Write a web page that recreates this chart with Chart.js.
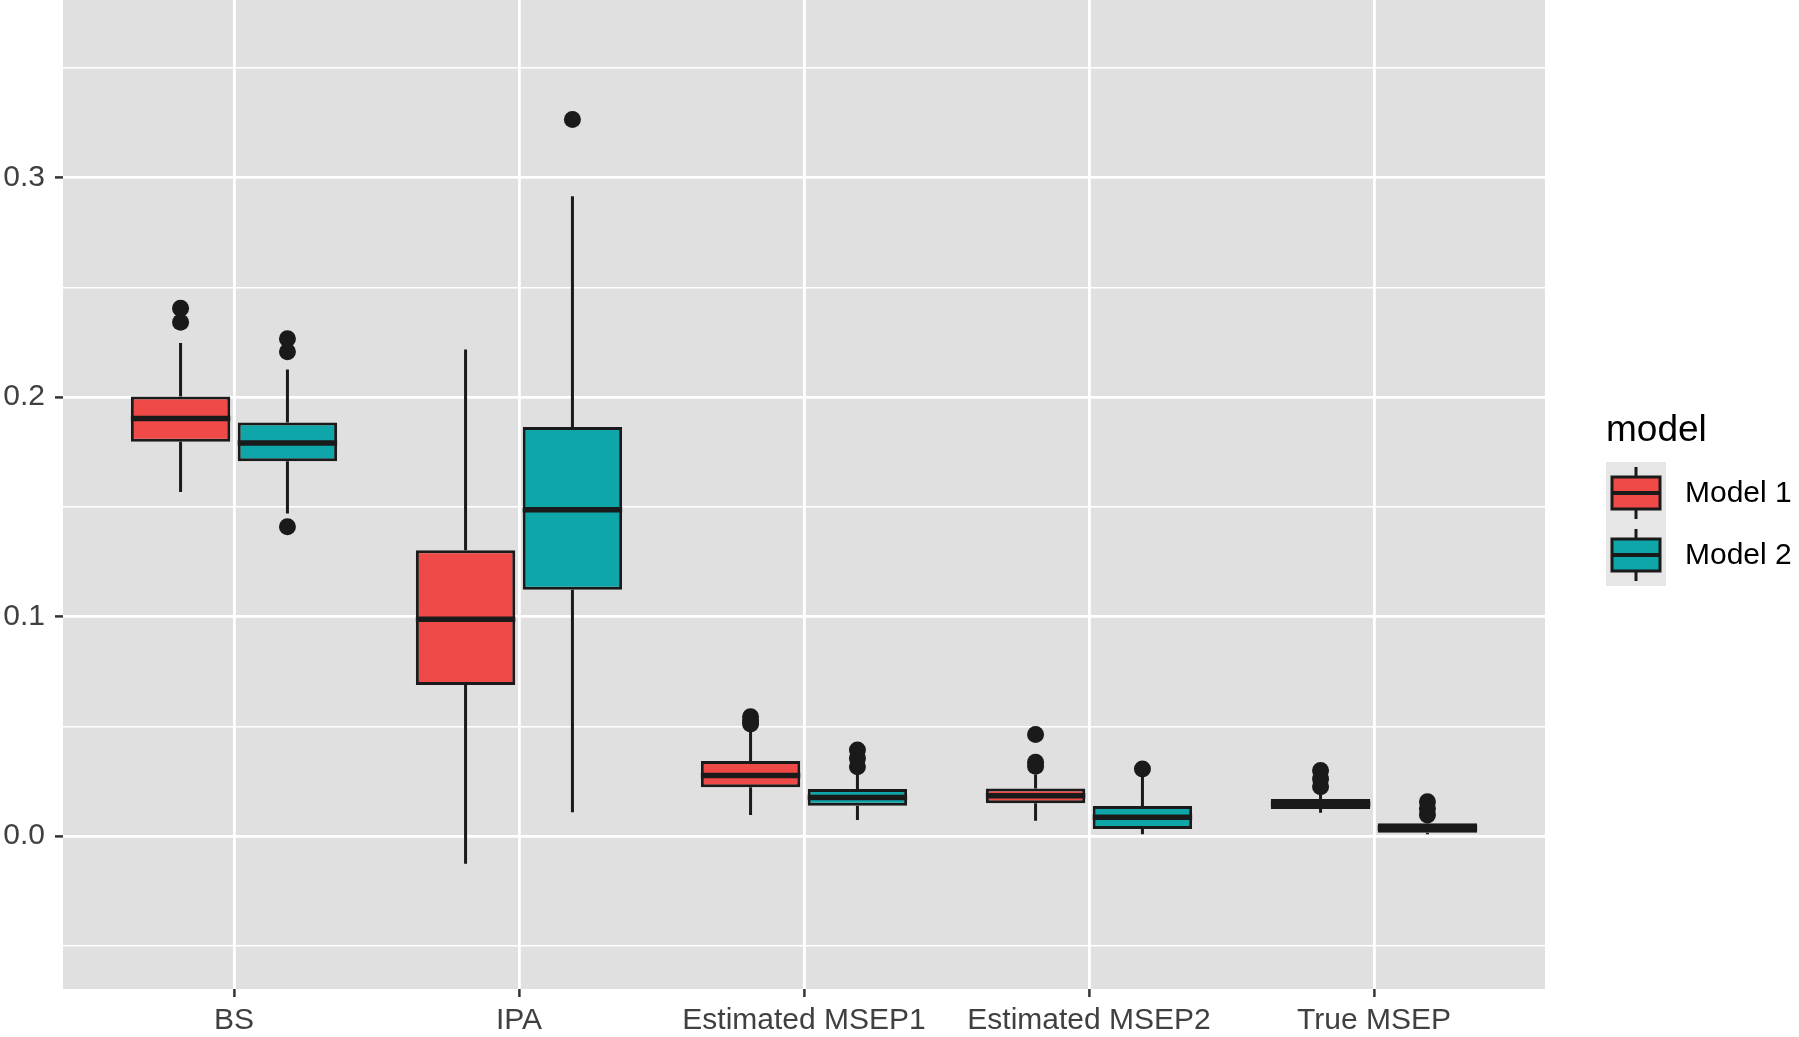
<!DOCTYPE html>
<html lang="en">
<head>
<meta charset="UTF-8">
<title>Model comparison boxplots</title>
<script src="https://cdn.jsdelivr.net/npm/chart.js"></script>
<style>
    html, body { margin: 0; padding: 0; background: #ffffff; }
    #wrap { width: 1799px; height: 1037px; }
</style>
</head>
<body>
<div id="wrap"><canvas id="boxes"></canvas></div>
<script>
    // categories on the x axis
    const categories = ['BS', 'IPA', 'Estimated MSEP1', 'Estimated MSEP2', 'True MSEP'];

    // Model 1 box statistics, one entry per category
    const m1Low    = [0.1567, -0.0126, 0.0096, 0.0070, 0.0106];
    const m1Q1     = [0.1796,  0.0688, 0.0222, 0.0149, 0.0123];
    const m1Median = [0.1902,  0.0988, 0.0276, 0.0184, 0.0146];
    const m1Q3     = [0.2003,  0.1302, 0.0342, 0.0217, 0.0169];
    const m1High   = [0.2246,  0.2217, 0.0480, 0.0280, 0.0190];
    const m1Out    = [[0.2405, 0.2341], [], [0.0543, 0.0525, 0.0510], [0.0463, 0.0336, 0.0318], [0.0298, 0.0260, 0.0225]];

    // Model 2 box statistics
    const m2Low    = [0.1469, 0.0108, 0.0073, 0.0008, 0.0008];
    const m2Q1     = [0.1707, 0.1122, 0.0138, 0.0032, 0.0015];
    const m2Median = [0.1791, 0.1486, 0.0176, 0.0085, 0.0036];
    const m2Q3     = [0.1884, 0.1864, 0.0214, 0.0137, 0.0058];
    const m2High   = [0.2125, 0.2915, 0.0310, 0.0280, 0.0070];
    const m2Out    = [[0.2266, 0.2206, 0.1409], [0.3265], [0.0392, 0.0354, 0.0316], [0.0305], [0.0156, 0.0125, 0.0096]];

    // y axis
    const yMin = -0.0697;
    const yMax = 0.3809;
    const yMajor = [0.0, 0.1, 0.2, 0.3];
    const yMinor = [-0.05, 0.05, 0.15, 0.25, 0.35];

    const legendTitle = 'model';
    const FONT = '"Liberation Sans", Arial, Helvetica, sans-serif';
    const INK = '#1a1a1a';

    function isMajor(v) {
        return yMajor.some(m => Math.abs(m - v) < 1e-9);
    }

    function makeDataset(label, color, q1, q3, low, med, high, out) {
        return {
            label: label,
            data: categories.map((c, i) => ({ x: i, y: [q1[i], q3[i]] })),
            backgroundColor: color,
            borderColor: INK,
            borderWidth: 3,
            borderSkipped: false,
            categoryPercentage: 0.75,
            barPercentage: 0.93,
            low: low, median: med, high: high, outliers: out
        };
    }

    // whiskers under the boxes, medians + outliers on top, grey panel behind
    const boxPlot = {
        id: 'boxPlot',
        beforeDraw(chart) {
            const a = chart.chartArea, c = chart.ctx;
            c.save();
            c.fillStyle = '#E0E0E0';
            c.fillRect(a.left, a.top, a.right - a.left, a.bottom - a.top);
            c.restore();
        },
        beforeDatasetsDraw(chart) {
            const y = chart.scales.y, c = chart.ctx;
            c.save();
            c.strokeStyle = INK;
            c.lineWidth = 3;
            chart.data.datasets.forEach((ds, di) => {
                chart.getDatasetMeta(di).data.forEach((bar, i) => {
                    c.beginPath();
                    c.moveTo(bar.x, y.getPixelForValue(ds.low[i]));
                    c.lineTo(bar.x, y.getPixelForValue(ds.data[i].y[0]));
                    c.moveTo(bar.x, y.getPixelForValue(ds.data[i].y[1]));
                    c.lineTo(bar.x, y.getPixelForValue(ds.high[i]));
                    c.stroke();
                });
            });
            c.restore();
        },
        afterDatasetsDraw(chart) {
            const y = chart.scales.y, c = chart.ctx;
            c.save();
            chart.data.datasets.forEach((ds, di) => {
                chart.getDatasetMeta(di).data.forEach((bar, i) => {
                    const w = bar.width;
                    const py = y.getPixelForValue(ds.median[i]);
                    c.strokeStyle = INK;
                    c.lineWidth = 5.5;
                    c.beginPath();
                    c.moveTo(bar.x - w / 2, py);
                    c.lineTo(bar.x + w / 2, py);
                    c.stroke();
                    c.fillStyle = INK;
                    ds.outliers[i].forEach(v => {
                        c.beginPath();
                        c.arc(bar.x, y.getPixelForValue(v), 8.5, 0, Math.PI * 2);
                        c.fill();
                    });
                });
            });
            c.restore();
        }
    };

    // ggplot style key on the right
    const keyLegend = {
        id: 'keyLegend',
        afterDraw(chart) {
            const c = chart.ctx, a = chart.chartArea;
            const x0 = a.right + 61;
            c.save();
            c.fillStyle = '#000000';
            c.font = '37px ' + FONT;
            c.textBaseline = 'alphabetic';
            c.textAlign = 'left';
            c.fillText(legendTitle, x0, 441);
            chart.data.datasets.forEach((ds, i) => {
                const top = 462 + i * 62;
                c.fillStyle = '#E6E6E6';
                c.fillRect(x0, top, 60, 62);
                c.strokeStyle = INK;
                c.lineWidth = 3;
                c.beginPath();
                c.moveTo(x0 + 30, top + 5);
                c.lineTo(x0 + 30, top + 57);
                c.stroke();
                c.fillStyle = ds.backgroundColor;
                c.fillRect(x0 + 6, top + 15, 48, 32);
                c.strokeRect(x0 + 6, top + 15, 48, 32);
                c.lineWidth = 4;
                c.beginPath();
                c.moveTo(x0 + 6, top + 31);
                c.lineTo(x0 + 54, top + 31);
                c.stroke();
                c.fillStyle = '#000000';
                c.font = '30px ' + FONT;
                c.textBaseline = 'middle';
                c.fillText(ds.label, x0 + 79, top + 32);
            });
            c.restore();
        }
    };

    const chart = new Chart(document.getElementById('boxes'), {
        type: 'bar',
        data: {
            datasets: [
                makeDataset('Model 1', '#EF4A47', m1Q1, m1Q3, m1Low, m1Median, m1High, m1Out),
                makeDataset('Model 2', '#0EA6A8', m2Q1, m2Q3, m2Low, m2Median, m2High, m2Out)
            ]
        },
        options: {
            responsive: true,
            maintainAspectRatio: false,
            animation: false,
            layout: { padding: { left: 0, top: 0, right: 254, bottom: 0 } },
            plugins: {
                legend: { display: false },
                tooltip: { enabled: false }
            },
            scales: {
                x: {
                    type: 'linear',
                    min: -0.6,
                    max: 4.6,
                    offset: false,
                    afterBuildTicks: s => { s.ticks = categories.map((c, i) => ({ value: i })); },
                    afterFit: s => { s.height = 48; s.paddingLeft = 0; s.paddingRight = 0; },
                    border: { display: false },
                    grid: { offset: false, color: '#ffffff', lineWidth: 2.8, tickColor: '#333333', tickLength: 8, tickWidth: 2.5 },
                    ticks: {
                        callback: v => categories[v],
                        autoSkip: false,
                        maxRotation: 0,
                        color: '#404040',
                        font: { size: 30, family: FONT },
                        padding: 6
                    }
                },
                y: {
                    min: yMin,
                    max: yMax,
                    afterBuildTicks: s => { s.ticks = yMinor.concat(yMajor).sort((p, q) => p - q).map(v => ({ value: v })); },
                    afterFit: s => { s.width = 63; s.paddingTop = 0; s.paddingBottom = 0; },
                    border: { display: false },
                    grid: {
                        color: '#ffffff',
                        lineWidth: ctx => isMajor(ctx.tick.value) ? 2.8 : 1.5,
                        tickColor: ctx => isMajor(ctx.tick.value) ? '#333333' : 'rgba(0,0,0,0)',
                        tickLength: 8,
                        tickWidth: 2.5
                    },
                    ticks: {
                        callback: v => isMajor(v) ? v.toFixed(1) : '',
                        autoSkip: false,
                        color: '#404040',
                        font: { size: 30, family: FONT },
                        padding: 10
                    }
                }
            }
        },
        plugins: [boxPlot, keyLegend]
    });
</script>
</body>
</html>
